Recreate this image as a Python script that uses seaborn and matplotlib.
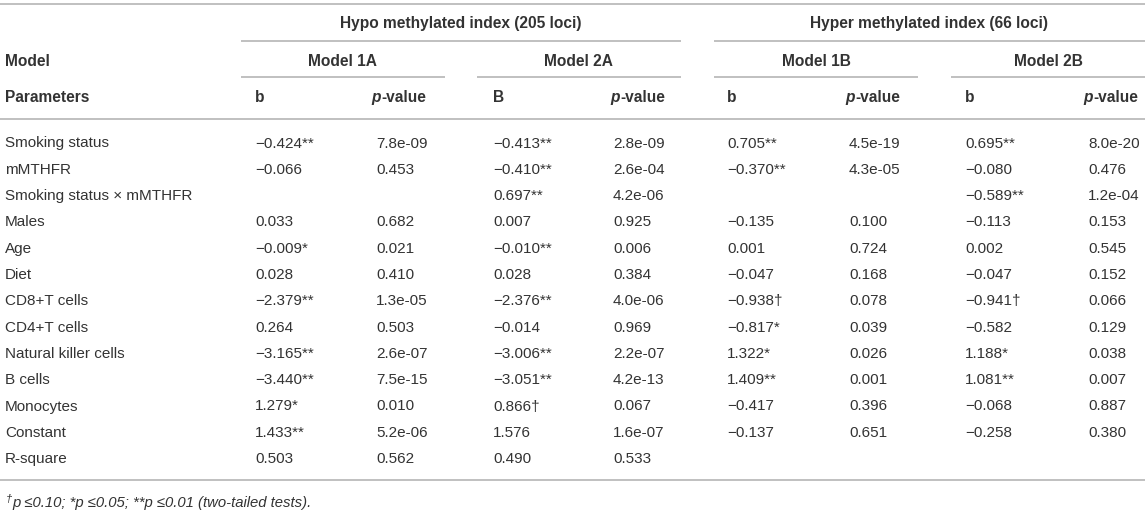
import matplotlib
matplotlib.use("Agg")
import matplotlib.pyplot as plt
import seaborn as sns

# ---------------- data ----------------
params = ["Smoking status", "mMTHFR", "Smoking status \u00d7 mMTHFR", "Males", "Age", "Diet",
          "CD8+T cells", "CD4+T cells", "Natural killer cells", "B cells", "Monocytes", "Constant"]

group_titles = ["Hypo methylated index (205 loci)", "Hyper methylated index (66 loci)"]
model_titles = ["Model 1A", "Model 2A", "Model 1B", "Model 2B"]
coef_headers = ["b", "B", "b", "b"]

b_1A = [-0.424, -0.066, None, 0.033, -0.009, 0.028, -2.379, 0.264, -3.165, -3.440, 1.279, 1.433]
sig_1A = ["**", "", "", "", "*", "", "**", "", "**", "**", "*", "**"]
p_1A = [7.8e-09, 0.453, None, 0.682, 0.021, 0.410, 1.3e-05, 0.503, 2.6e-07, 7.5e-15, 0.010, 5.2e-06]

b_2A = [-0.413, -0.410, 0.697, 0.007, -0.010, 0.028, -2.376, -0.014, -3.006, -3.051, 0.866, 1.576]
sig_2A = ["**", "**", "**", "", "**", "", "**", "", "**", "**", "\u2020", ""]
p_2A = [2.8e-09, 2.6e-04, 4.2e-06, 0.925, 0.006, 0.384, 4.0e-06, 0.969, 2.2e-07, 4.2e-13, 0.067, 1.6e-07]

b_1B = [0.705, -0.370, None, -0.135, 0.001, -0.047, -0.938, -0.817, 1.322, 1.409, -0.417, -0.137]
sig_1B = ["**", "**", "", "", "", "", "\u2020", "*", "*", "**", "", ""]
p_1B = [4.5e-19, 4.3e-05, None, 0.100, 0.724, 0.168, 0.078, 0.039, 0.026, 0.001, 0.396, 0.651]

b_2B = [0.695, -0.080, -0.589, -0.113, 0.002, -0.047, -0.941, -0.582, 1.188, 1.081, -0.068, -0.258]
sig_2B = ["**", "", "**", "", "", "", "\u2020", "", "*", "**", "", ""]
p_2B = [8.0e-20, 0.476, 1.2e-04, 0.153, 0.545, 0.152, 0.066, 0.129, 0.038, 0.007, 0.887, 0.380]

r_square_label = "R-square"
r_square = [0.503, 0.562, 0.490, 0.533]   # placed in b/p columns of Model 1A and 2A

footnote = "p \u22640.10; *p \u22640.05; **p \u22640.01 (two-tailed tests)."

# ---------------- style ----------------
sns.set_theme(style="white")
plt.rcParams['font.family'] = ['Liberation Sans', 'DejaVu Sans']
TXT = "#333333"
LINE = "#b5b5b5"
FS = 11.0
FSB = 11.2
LW = 1.2

W, H = 1145, 512
fig = plt.figure(figsize=(W / 100, H / 100), dpi=100)
ax = fig.add_axes([0, 0, 1, 1])
ax.set_xlim(0, W)
ax.set_ylim(H, 0)
ax.axis("off")

# layout (pixels)
x_label = 5
x_b = [255, 493, 727, 965]
x_p = [376, 613, 849, 1088]
x_ph = [371, 610, 845, 1083]
model_spans = [(241, 445), (477, 681), (714, 918), (951, 1145)]
group_spans = [(241, 681), (714, 1145)]
y_top, y_group, y_gline, y_model, y_mline, y_head, y_rule = 4, 23, 41, 61, 77, 97, 118.5
y_row0, dy = 142.5, 26.3
y_bottom = 480
y_foot = 502
base = 5  # baseline offset from visual centre


def fmt_b(v, s):
    if v is None:
        return ""
    t = f"{abs(v):.3f}"
    if v < 0:
        t = "\u2212" + t
    return t + s


def fmt_p(v):
    if v is None:
        return ""
    if v < 0.001:
        return f"{v:.1e}"
    return f"{v:.3f}"


def hline(y, x0, x1):
    ax.plot([x0, x1], [y, y], color=LINE, lw=LW, solid_capstyle="butt")


def txt(x, y, s, **kw):
    kw.setdefault("fontsize", FS)
    kw.setdefault("color", TXT)
    return ax.text(x, y + base, s, va="baseline", ha=kw.pop("ha", "left"), **kw)


# rules
hline(y_top, 0, W)
for x0, x1 in group_spans:
    hline(y_gline, x0, x1)
for x0, x1 in model_spans:
    hline(y_mline, x0, x1)
hline(y_rule, 0, W)
hline(y_bottom, 0, W)

# headers
for (x0, x1), t in zip(group_spans, group_titles):
    txt((x0 + x1) / 2, y_group, t, ha="center", fontweight="bold", fontsize=FSB)
txt(x_label, y_model, "Model", fontweight="bold", fontsize=FSB)
for (x0, x1), t in zip(model_spans, model_titles):
    txt((x0 + x1) / 2, y_model, t, ha="center", fontweight="bold", fontsize=FSB)
txt(x_label, y_head, "Parameters", fontweight="bold", fontsize=FSB)

fig.canvas.draw()
renderer = fig.canvas.get_renderer()
for xb, xp, ch in zip(x_b, x_ph, coef_headers):
    txt(xb, y_head, ch, fontweight="bold", fontsize=FSB)
    tp = txt(xp, y_head, "p", fontweight="bold", fontstyle="italic", fontsize=FSB)
    bb = tp.get_window_extent(renderer)
    txt(bb.x1 + 1.0, y_head, "-value", fontweight="bold", fontsize=FSB)

# body
cols = [(b_1A, sig_1A, p_1A), (b_2A, sig_2A, p_2A), (b_1B, sig_1B, p_1B), (b_2B, sig_2B, p_2B)]
for i, name in enumerate(params):
    y = y_row0 + i * dy
    txt(x_label, y, name)
    for (bv, sv, pv), xb, xp in zip(cols, x_b, x_p):
        txt(xb, y, fmt_b(bv[i], sv[i]))
        txt(xp, y, fmt_p(pv[i]))

y = y_row0 + len(params) * dy
txt(x_label, y, r_square_label)
for k, v in enumerate(r_square):
    xx = [x_b[0], x_p[0], x_b[1], x_p[1]][k]
    txt(xx, y, f"{v:.3f}")

# footnote
ax.text(x_label + 1, y_foot + base - 5, "\u2020", fontsize=8, color=TXT, fontstyle="italic", va="baseline")
txt(x_label + 7, y_foot, footnote, fontstyle="italic", fontsize=10.7)

fig.savefig("out.png", dpi=100)
